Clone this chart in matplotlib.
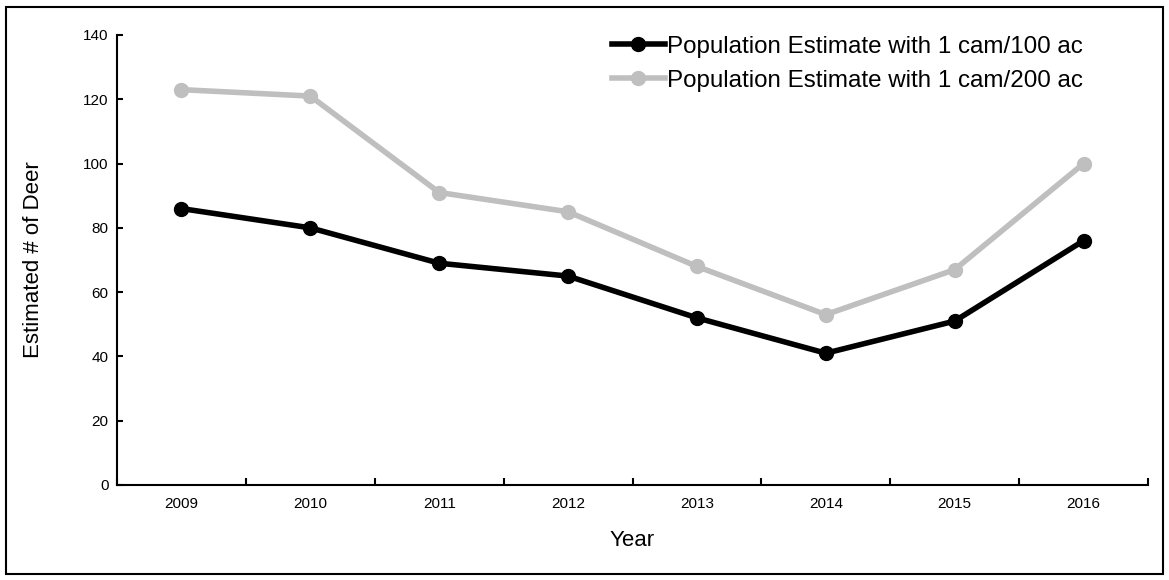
import matplotlib.pyplot as plt
import numpy as np

plt.rcParams['font.family'] = ['Liberation Sans', 'DejaVu Sans']

years = ['2009', '2010', '2011', '2012', '2013', '2014', '2015', '2016']
est_100 = [86, 80, 69, 65, 52, 41, 51, 76]
est_200 = [123, 121, 91, 85, 68, 53, 67, 100]

fig = plt.figure(figsize=(11.69, 5.80), dpi=100)
ax = fig.add_axes([117/1169, 1 - 485/580, (1148-117)/1169, 450/580])

# border around the whole chart
fig.patches.append(plt.Rectangle((6/1169, 6/580), 1157/1169, 567/580, transform=fig.transFigure,
                                 fill=False, edgecolor='black', linewidth=1.5))

x = np.arange(len(years))
ax.plot(x, est_100, color='black', lw=4, marker='o', ms=10, label='Population Estimate with 1 cam/100 ac')
ax.plot(x, est_200, color='#BFBFBF', lw=4, marker='o', ms=10, label='Population Estimate with 1 cam/200 ac')

ax.set_xlim(-0.5, len(years) - 0.5)
ax.set_ylim(0, 140)
ax.set_yticks(range(0, 141, 20))
ax.set_xticks(np.arange(-0.5, len(years)))
ax.set_xticklabels([])
ax.set_xticks(x, minor=True)
ax.set_xticklabels(years, minor=True)
ax.tick_params(axis='x', which='major', direction='in', length=5, width=1.5)
ax.tick_params(axis='x', which='minor', length=0, labelsize=11, pad=9)
ax.tick_params(axis='y', direction='in', length=4, width=1.5, labelsize=11, pad=6)

for s in ['top', 'right']:
    ax.spines[s].set_visible(False)
for s in ['left', 'bottom']:
    ax.spines[s].set_linewidth(1.5)

ax.set_xlabel('Year', fontsize=16, labelpad=13)
ax.set_ylabel('Estimated # of Deer', fontsize=16, labelpad=28)

ax.legend(loc='upper left', bbox_to_anchor=(590/1169, 1 - 14/580), bbox_transform=fig.transFigure,
          frameon=False, fontsize=17.4, handlelength=2.2, handletextpad=0.1, labelspacing=0.5)

fig.savefig('out.png', dpi=100)
